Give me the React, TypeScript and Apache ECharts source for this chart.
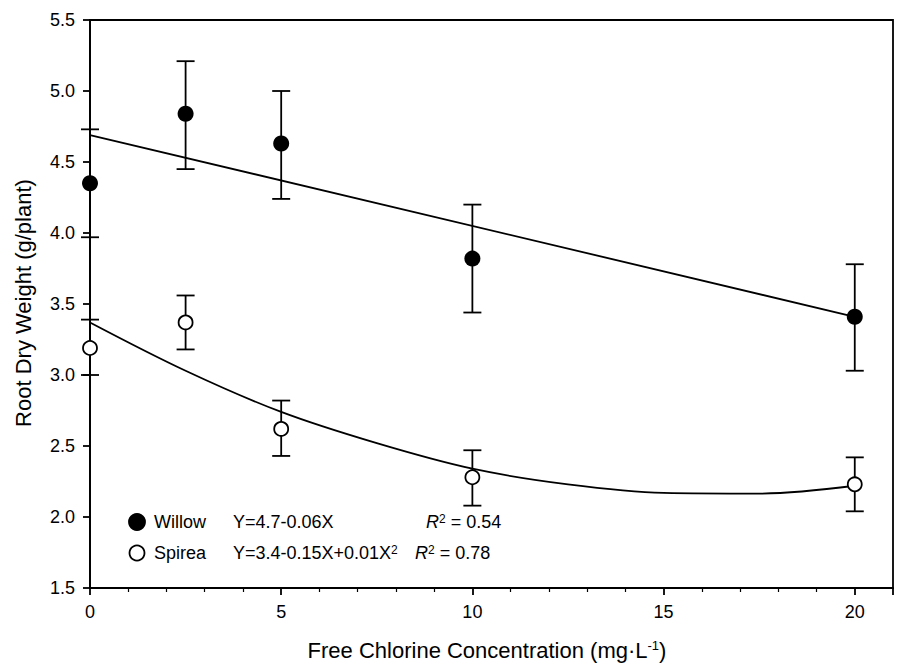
import React, { useEffect, useRef } from "react";
import * as echarts from "echarts";

// ---- data ----
const concentrations = [0, 2.5, 5, 10, 20];
const willowMean = [4.35, 4.84, 4.63, 3.82, 3.41];
const willowHigh = [4.73, 5.21, 5.0, 4.2, 3.78];
const willowLow = [3.97, 4.45, 4.24, 3.44, 3.03];
const spireaMean = [3.19, 3.37, 2.62, 2.28, 2.23];
const spireaHigh = [3.39, 3.56, 2.82, 2.47, 2.42];
const spireaLow = [3.0, 3.18, 2.43, 2.08, 2.04];

const willowFitX = [0, 20];
const willowFitY = [4.69, 3.41];
const spireaFitX = [0, 2.5, 5, 7.5, 10, 12.5, 15, 17.5, 20];
const spireaFitY = [3.37, 3.03, 2.74, 2.52, 2.34, 2.23, 2.17, 2.165, 2.22];

const seriesNames = ["Willow", "Spirea"];
const equations = ["Y=4.7-0.06X", "Y=3.4-0.15X+0.01X{sup|2}"];
const rSquared = ["0.54", "0.78"];

const xAxisTitle = "Free Chlorine Concentration (mg·L{sup|-1})";
const yAxisTitle = "Root Dry Weight (g/plant)";

const FONT = "'Liberation Sans', Arial, Helvetica, sans-serif";
const LW = 1.8;

function errorRender(params: any, api: any) {
  const x = api.value(0);
  const lo = api.value(1);
  const hi = api.value(2);
  const a = api.coord([x, hi]);
  const b = api.coord([x, lo]);
  const w = 9;
  const style = { stroke: "#000", lineWidth: LW };
  return {
    type: "group",
    children: [
      { type: "line", shape: { x1: a[0], y1: a[1], x2: b[0], y2: b[1] }, style },
      { type: "line", shape: { x1: a[0] - w, y1: a[1], x2: a[0] + w, y2: a[1] }, style },
      { type: "line", shape: { x1: b[0] - w, y1: b[1], x2: b[0] + w, y2: b[1] }, style },
    ],
  };
}

export default function App() {
  const ref = useRef<HTMLDivElement>(null);
  useEffect(() => {
    if (!ref.current) return;
    const chart = echarts.init(ref.current, undefined, { renderer: "svg" });
    const zip = (xs: number[], ys: number[]) => xs.map((x, i) => [x, ys[i]]);
    const supRich = {
      sup: { fontSize: 12, verticalAlign: "top", fontFamily: FONT, fill: "#000", lineHeight: 14 },
      it: { fontStyle: "italic", fontSize: 18, fontFamily: FONT },
    };
    const legendX = 137;
    const rowY = [522, 553];
    const legendGraphics: any[] = [];
    seriesNames.forEach((name, i) => {
      legendGraphics.push({
        type: "circle",
        shape: { cx: legendX, cy: rowY[i], r: i === 0 ? 8 : 7.5 },
        style: { fill: i === 0 ? "#000" : "#fff", stroke: "#000", lineWidth: LW },
      });
      legendGraphics.push({
        type: "text",
        x: 154,
        y: rowY[i],
        style: { text: name, font: `18px ${FONT}`, fill: "#000", verticalAlign: "middle" },
      });
      legendGraphics.push({
        type: "text",
        x: 233,
        y: rowY[i],
        style: {
          text: equations[i],
          fontSize: 18,
          fontFamily: FONT,
          fill: "#000",
          verticalAlign: "middle",
          rich: supRich,
        },
      });
      legendGraphics.push({
        type: "text",
        x: i === 0 ? 426 : 415,
        y: rowY[i],
        style: {
          text: `{it|R}{sup|2} = ${rSquared[i]}`,
          fontSize: 18,
          fontFamily: FONT,
          fill: "#000",
          verticalAlign: "middle",
          rich: supRich,
        },
      });
    });

    chart.setOption({
      animation: false,
      backgroundColor: "#fff",
      grid: {
        left: 90,
        right: 14,
        top: 20,
        bottom: 80,
        show: true,
        borderColor: "#000",
        borderWidth: LW,
        backgroundColor: "transparent",
      },
      xAxis: {
        type: "value",
        min: 0,
        max: 21,
        interval: 5,
        axisLine: { show: true, lineStyle: { color: "#000", width: LW } },
        axisTick: { show: true, length: 7, lineStyle: { color: "#000", width: LW } },
        minorTick: { show: true, splitNumber: 5, length: 4, lineStyle: { color: "#000", width: 1.2 } },
        splitLine: { show: false },
        minorSplitLine: { show: false },
        axisLabel: {
          color: "#000",
          fontSize: 18,
          fontFamily: FONT,
          margin: 15,
          showMaxLabel: false,
          formatter: (v: number) => (v % 5 === 0 ? String(v) : ""),
        },
      },
      yAxis: {
        type: "value",
        min: 1.5,
        max: 5.5,
        interval: 0.5,
        axisLine: { show: true, lineStyle: { color: "#000", width: LW } },
        axisTick: { show: true, length: 7, lineStyle: { color: "#000", width: LW } },
        splitLine: { show: false },
        axisLabel: {
          color: "#000",
          fontSize: 18,
          fontFamily: FONT,
          margin: 15,
          formatter: (v: number) => v.toFixed(1),
        },
      },
      graphic: [
        {
          type: "text",
          x: 487,
          y: 650,
          style: {
            text: xAxisTitle,
            fontSize: 22,
            fontFamily: FONT,
            fill: "#000",
            align: "center",
            verticalAlign: "middle",
            rich: { sup: { fontSize: 13, verticalAlign: "top", fontFamily: FONT, lineHeight: 14 } },
          },
        },
        {
          type: "text",
          x: 23,
          y: 303,
          rotation: Math.PI / 2,
          style: {
            text: yAxisTitle,
            font: `22px ${FONT}`,
            fill: "#000",
            align: "center",
            verticalAlign: "middle",
          },
        },
        ...legendGraphics,
      ],
      series: [
        {
          name: "Willow fit",
          type: "line",
          data: zip(willowFitX, willowFitY),
          symbol: "none",
          lineStyle: { color: "#000", width: LW },
          z: 1,
        },
        {
          name: "Spirea fit",
          type: "line",
          data: zip(spireaFitX, spireaFitY),
          smooth: 0.35,
          symbol: "none",
          lineStyle: { color: "#000", width: LW },
          z: 1,
        },
        {
          name: "Willow err",
          type: "custom",
          renderItem: errorRender,
          data: concentrations.map((x, i) => [x, willowLow[i], willowHigh[i]]),
          encode: { x: 0, y: [1, 2] },
          z: 2,
        },
        {
          name: "Spirea err",
          type: "custom",
          renderItem: errorRender,
          data: concentrations.map((x, i) => [x, spireaLow[i], spireaHigh[i]]),
          encode: { x: 0, y: [1, 2] },
          z: 2,
        },
        {
          name: "Willow",
          type: "scatter",
          data: zip(concentrations, willowMean),
          symbol: "circle",
          symbolSize: 16,
          itemStyle: { color: "#000", borderColor: "#000", borderWidth: 0, opacity: 1 },
          z: 3,
        },
        {
          name: "Spirea",
          type: "scatter",
          data: zip(concentrations, spireaMean),
          symbol: "circle",
          symbolSize: 14,
          itemStyle: { color: "#fff", borderColor: "#000", borderWidth: LW, opacity: 1 },
          z: 3,
        },
      ],
    });
    return () => chart.dispose();
  }, []);
  return (
    <div
      ref={ref}
      style={{ position: "absolute", left: 0, top: 0, width: 907, height: 668, background: "#fff" }}
    />
  );
}
